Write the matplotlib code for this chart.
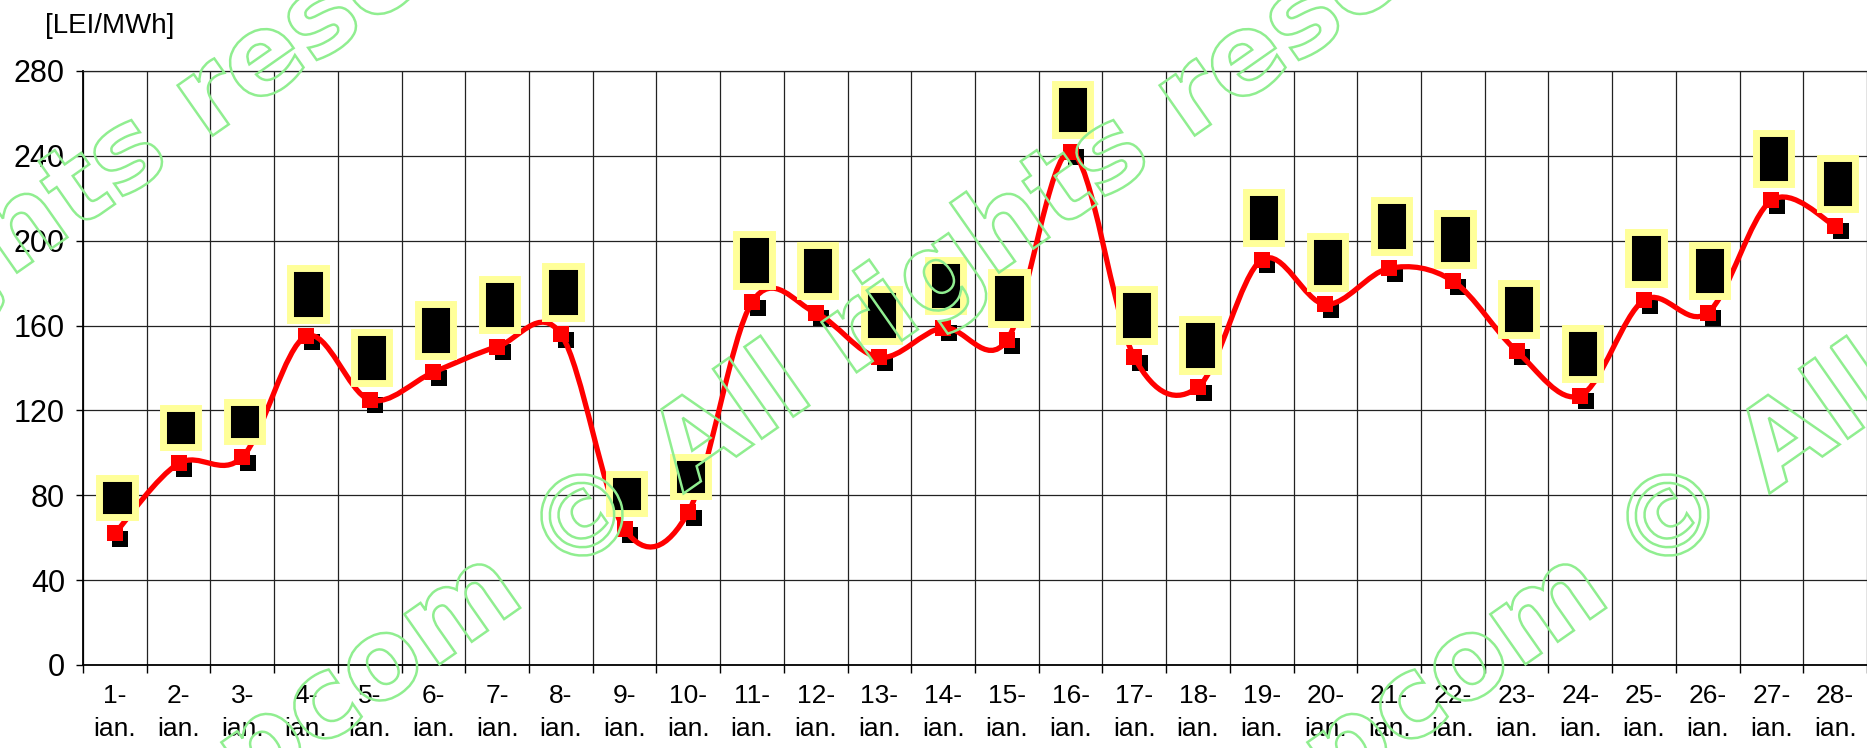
import matplotlib
matplotlib.use("Agg")
import matplotlib.pyplot as plt
from matplotlib.path import Path
from matplotlib.patches import PathPatch
from matplotlib.textpath import TextPath
from matplotlib.font_manager import FontProperties
from matplotlib.transforms import Affine2D, ScaledTranslation

plt.rcParams['font.family'] = ['Liberation Sans', 'DejaVu Sans']

# date (ianuarie) si pret mediu [LEI/MWh]
zile = [f"{d}-\nian." for d in range(1, 29)]
pret = [62, 95, 98, 155, 125, 138, 150, 156, 64, 72, 171, 166, 145, 159,
        153, 242, 145, 131, 191, 170, 187, 181, 148, 127, 172, 166, 219, 207]
y_ticks = [0, 40, 80, 120, 160, 200, 240, 280]
unitate = "[LEI/MWh]"
watermark = "opcom © All rights reserved"

W, H = 1867, 748
fig = plt.figure(figsize=(W / 100, H / 100), dpi=100)
ax = fig.add_axes([83 / W, 83 / H, 1 - 83 / W, 594 / H])

n = len(pret)
xs = list(range(n))

# curba netezita (Bezier tip Catmull-Rom, ca in Excel)
verts = [(xs[0], pret[0])]
codes = [Path.MOVETO]
for i in range(n - 1):
    x0, y0 = xs[i - 1] if i > 0 else xs[i], pret[i - 1] if i > 0 else pret[i]
    x3, y3 = (xs[i + 2], pret[i + 2]) if i + 2 < n else (xs[i + 1], pret[i + 1])
    c1 = (xs[i] + (xs[i + 1] - x0) / 6, pret[i] + (pret[i + 1] - y0) / 6)
    c2 = (xs[i + 1] - (x3 - xs[i]) / 6, pret[i + 1] - (y3 - pret[i]) / 6)
    verts += [c1, c2, (xs[i + 1], pret[i + 1])]
    codes += [Path.CURVE4] * 3
ax.add_patch(PathPatch(Path(verts, codes), fill=False, edgecolor='#FF0000',
                       lw=3.8, zorder=4, capstyle='round', joinstyle='round'))

# umbra markerelor + markere
shadow = ax.transData + ScaledTranslation(4 / 72, -4 / 72, fig.dpi_scale_trans)
ax.plot(xs, pret, 's', color='black', ms=11, mew=0, transform=shadow, zorder=3)
ax.plot(xs, pret, 's', color='#FF0000', ms=11, mew=0, zorder=5)

# etichete (text negru pe fond negru, chenar galben)
for x, v in zip(xs, pret):
    ax.annotate(str(v), (x, v), xytext=(1.5, 17), textcoords='offset points',
                rotation=90, ha='center', va='bottom', fontsize=16, color='black',
                bbox=dict(boxstyle='square,pad=0.32', fc='black', ec='#FFFF99', lw=5),
                zorder=6)

ax.set_xlim(-0.5, n - 0.5)
ax.set_ylim(0, 280)
ax.set_yticks(y_ticks)
ax.tick_params(axis='y', labelsize=22, length=5, width=1, pad=8, direction='out')
ax.set_xticks([i - 0.5 for i in range(n + 1)])
ax.set_xticklabels([])
ax.set_xticks(xs, minor=True)
ax.set_xticklabels(zile, minor=True, fontsize=19, linespacing=1.45)
ax.tick_params(axis='x', which='major', length=6, width=1, direction='out')
ax.tick_params(axis='x', which='minor', length=0, pad=14)
ax.grid(True, which='major', color='#222222', lw=0.9)
ax.set_axisbelow(True)
ax.spines['right'].set_visible(False)
ax.spines['top'].set_color('#222222')
ax.spines['top'].set_linewidth(0.9)
ax.spines['left'].set_linewidth(1.3)
ax.spines['bottom'].set_linewidth(1.3)

fig.text(45 / W, 1 - 33 / H, unitate, fontsize=20, ha='left', va='baseline')

# watermark opcom (contur verde, rotit)
wm_fp = FontProperties(family='DejaVu Sans', weight='bold')
WM_SIZE = 112
wm_path = TextPath((0, 0), watermark, size=WM_SIZE, prop=wm_fp)
pre = TextPath((0, 0), "opcom ©", size=WM_SIZE, prop=wm_fp).get_extents()
cb = TextPath((0, 0), "©", size=WM_SIZE, prop=wm_fp).get_extents()
cx = pre.x1 - cb.width / 2
cy = (cb.y0 + cb.y1) / 2
for X, Y in [(-400, 515), (582, 515), (1668, 515)]:
    tr = Affine2D().translate(-cx, -cy).rotate_deg(35).translate(X, H - Y)
    fig.add_artist(PathPatch(wm_path, transform=tr, fill=False,
                             edgecolor='#90EE90', lw=1.8, zorder=20))

fig.savefig("out.png", dpi=100)
